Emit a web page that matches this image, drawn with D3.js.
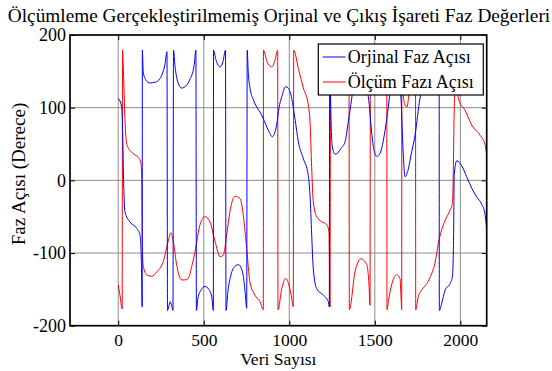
<!DOCTYPE html>
<html><head><meta charset="utf-8">
<script src="https://cdn.jsdelivr.net/npm/d3@7"></script>
<style>body{margin:0;background:#fff}svg{display:block}text{font-family:"Liberation Serif","Times New Roman",serif;fill:#000}</style>
</head><body><svg id="c" width="552" height="371"></svg>
<script>
const titleText = "Ölçümleme Gerçekleştirilmemiş Orjinal ve Çıkış İşareti Faz Değerleri";
const xLabel = "Veri Sayısı";
const yLabel = "Faz Açısı (Derece)";
const seriesNames = ["Orjinal Faz Açısı", "Ölçüm Fazı Açısı"];
const xTicks = [0, 500, 1000, 1500, 2000];
const yTicks = [-200, -100, 0, 100, 200];

// Orjinal Faz Açısı (blue)
const origX = [0,20,25,30,35,39,68,108,127,135,140,
 141,146,162,185,215,244,261,273,285,
 288,297,304,312,320,
 323,332,349,371,396,419,443,454,
 457,466,484,507,530,548,556,
 557,571,595,612,627,
 630,642,659,683,702,723,741,751,
 754,760,770,790,809,829,848,877,901,914,926,940,956,979,994,1014,1033,1053,1082,1111,1121,1131,1140,1160,1199,1228,1234,
 1236,1244,1250,1267,1285,1302,1326,1345,1365,1384,1408,1431,1449,1462,1482,1495,1511,1530,1560,1579,1601,1618,1642,1653,1665,1677,1694,1712,1735,1764,1794,1823,1852,1876,
 1877,1891,1911,1940,1953,1959,1962,1964,1979,2008,2037,2067,2096,2125,2142,2154];
const origPhase = [113,101,76,14,-27,-43,-57,-66,-75,-110,-174,
 179,149,138,134,135,140,149,159,177,
 -179,-172,-167,-172,-179,
 179,157,135,127,130,139,157,179,
 -179,-162,-151,-146,-150,-162,-179,
 179,166,156,163,179,
 -179,-151,-130,-118,-116,-123,-151,-176,
 179,149,127,111,101,94,85,69,60,65,76,100,115,129,127,113,85,53,30,7,-20,-75,-121,-149,-158,-167,-174,
 179,83,49,36,38,44,53,81,113,152,166,152,127,115,65,42,33,37,69,101,145,159,138,113,42,5,14,35,62,113,140,155,168,179,
 -179,-169,-151,-142,-133,-100,-41,7,27,20,5,-11,-23,-33,-44,-66];

// Ölçüm Fazı Açısı (red)
const measX = [0,10,23,
 25,30,33,39,49,60,78,98,117,133,137,140,146,166,195,225,263,292,308,322,342,371,390,409,431,449,478,507,536,566,595,614,634,653,683,712,731,751,770,799,829,848,
 849,870,897,916,932,
 934,956,979,998,1014,1023,
 1026,1053,1082,1111,1121,1131,1140,1160,1190,1219,1232,1238,
 1241,1267,1297,1326,1349,
 1351,1355,1384,1419,1453,1466,1472,
 1474,1501,1530,1554,1570,
 1571,1580,1598,1628,1647,1654,1657,
 1658,1661,1666,1678,1688,1697,1707,1724,1738,
 1739,1754,1774,1804,1833,1852,1871,1891,1911,1940,1953,1959,1963,1969,1978,1988,2028,2067,2115,2145,2154];
const measPhase = [-144,-158,-177,
 179,152,131,85,51,44,39,35,32,23,3,-75,-117,-130,-132,-126,-112,-84,-72,-84,-117,-137,-137,-135,-117,-98,-61,-50,-57,-84,-105,-103,-75,-43,-22,-25,-48,-94,-140,-158,-167,-178,
 179,163,156,165,179,
 -178,-149,-135,-144,-162,-174,
 179,154,127,104,81,17,-29,-50,-57,-61,-71,-174,
 179,145,131,145,179,
 -178,-176,-126,-108,-116,-144,-172,
 179,155,149,163,179,
 -178,-165,-144,-130,-135,-165,-178,
 179,152,117,103,101,113,131,159,179,
 -178,-160,-151,-142,-128,-114,-87,-68,-55,-41,-32,14,83,131,138,113,96,76,62,49,35];

const svg = d3.select("#c");
const L = 70, R = 486.7, T = 35, B = 325.7;
const x = d3.scaleLinear().domain([-282, 2154]).range([L, R]);
const y = d3.scaleLinear().domain([-200, 200]).range([B, T]);
const fmt = d => String(d);

// grid
const grid = svg.append("g").attr("stroke", "#8c8c8c").attr("stroke-width", 1);
xTicks.forEach(v => grid.append("line").attr("x1", x(v)).attr("x2", x(v)).attr("y1", T).attr("y2", B));
yTicks.filter(v => v > -200 && v < 200).forEach(v => grid.append("line").attr("x1", L).attr("x2", R).attr("y1", y(v)).attr("y2", y(v)));

svg.append("defs").append("clipPath").attr("id", "clip").append("rect")
  .attr("x", L).attr("y", T).attr("width", R - L).attr("height", B - T);

const line = d3.line().x(d => x(d[0])).y(d => y(d[1])).curve(d3.curveMonotoneX);
const plot = svg.append("g").attr("clip-path", "url(#clip)");
plot.append("path").datum(d3.zip(measX, measPhase)).attr("d", line)
  .attr("fill", "none").attr("stroke", "#ff0000").attr("stroke-width", 1);
plot.append("path").datum(d3.zip(origX, origPhase)).attr("d", line)
  .attr("fill", "none").attr("stroke", "#0000ff").attr("stroke-width", 1);

// axes
const fs = 18;
const ax = svg.append("g").attr("transform", `translate(0,${B})`)
  .call(d3.axisBottom(x).tickValues(xTicks).tickSize(-5).tickPadding(8).tickFormat(fmt));
const axT = svg.append("g").attr("transform", `translate(0,${T})`)
  .call(d3.axisTop(x).tickValues(xTicks).tickSize(-5).tickFormat(""));
const ay = svg.append("g").attr("transform", `translate(${L},0)`)
  .call(d3.axisLeft(y).tickValues(yTicks).tickSize(-5).tickPadding(4).tickFormat(fmt));
const ayR = svg.append("g").attr("transform", `translate(${R},0)`)
  .call(d3.axisRight(y).tickValues(yTicks).tickSize(-5).tickFormat(""));
[ax, axT, ay, ayR].forEach(g => {
  g.select(".domain").remove();
  g.selectAll(".tick line").attr("stroke", "#000");
  g.selectAll("text").attr("font-family", '"Liberation Serif", serif').attr("font-size", fs).attr("fill", "#000");
});
ax.selectAll("text").attr("font-size", 17.5);
svg.append("rect").attr("x", L).attr("y", T).attr("width", R - L).attr("height", B - T)
  .attr("fill", "none").attr("stroke", "#000").attr("stroke-width", 1.7);

// labels
svg.append("text").attr("x", 279).attr("y", 22).attr("text-anchor", "middle")
  .attr("font-size", 19.3).text(titleText);
svg.append("text").attr("x", (L + R) / 2).attr("y", 365).attr("text-anchor", "middle")
  .attr("font-size", 17.5).text(xLabel);
svg.append("text").attr("transform", `translate(25,174) rotate(-90)`).attr("text-anchor", "middle")
  .attr("font-size", 19).text(yLabel);

// legend
const lg = svg.append("g");
lg.append("rect").attr("x", 318.3).attr("y", 44).attr("width", 165).attr("height", 51)
  .attr("fill", "#fff").attr("stroke", "#000").attr("stroke-width", 1.2);
const colors = ["#0000ff", "#ff0000"];
seriesNames.forEach((n, i) => {
  const yy = 57 + i * 25;
  lg.append("line").attr("x1", 322.7).attr("x2", 345.5).attr("y1", yy).attr("y2", yy)
    .attr("stroke", colors[i]).attr("stroke-width", 1);
  lg.append("text").attr("x", 347.7).attr("y", yy + 6).attr("font-size", fs).text(n);
});
</script></body></html>
